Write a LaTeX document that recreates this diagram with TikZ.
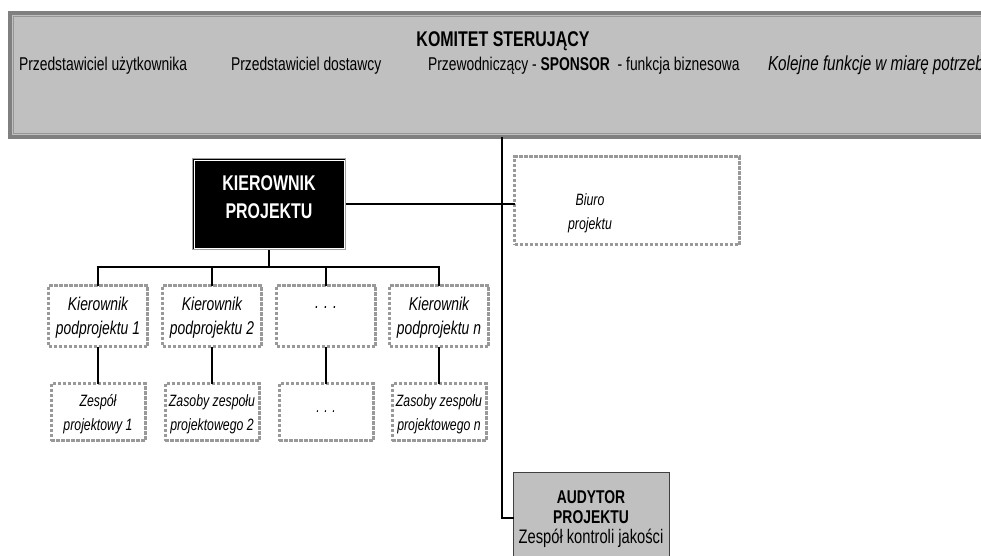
\documentclass[tikz,border=0pt]{standalone}
\usepackage{fontspec}
\setmainfont{Liberation Sans}[FakeStretch=0.75]
\definecolor{boxgray}{HTML}{C0C0C0}
\definecolor{darkframe}{HTML}{808080}
\definecolor{innerframe}{HTML}{969696}
\definecolor{dashgray}{HTML}{999999}
\definecolor{auditframe}{HTML}{404040}
\newcommand{\fsz}[2]{\fontsize{#1}{#2}\selectfont}
\newcommand{\toppad}[1]{\rule{0pt}{#1}}
\begin{document}
\begin{tikzpicture}[x=1pt,y=-1pt,
  every node/.style={inner sep=0pt,outer sep=0pt},
  conn/.style={draw=black,line width=2.6pt},
  dbox/.style={draw=dashgray,line width=3pt,dash pattern=on 3.5pt off 1.5pt,align=center},
  toprow/.style={dbox,minimum width=99pt,minimum height=61pt,font=\fsz{18.5}{24}\itshape},
  botrow/.style={dbox,minimum width=94pt,minimum height=57pt,font=\fsz{16.4}{24}\itshape},
  regtext/.style={font=\fsz{18.5}{24}},
  titletext/.style={font=\fsz{21.3}{24}\bfseries},
]
\useasboundingbox (0,0) rectangle (981,555);
\clip (0,0) rectangle (981,555);

% Steering committee
\node[fill=boxgray,draw=darkframe,line width=4pt,minimum width=990pt,minimum height=124pt] (komitet) at (505,75) {};
\draw[innerframe,line width=1pt] ([shift={(3.5,3.5)}]komitet.north west) rectangle ([shift={(-3.5,-3.5)}]komitet.south east);
\node[titletext,anchor=base] (kt) at (503,46) {KOMITET STERUJĄCY};
\node[regtext,anchor=base west] (r1) at (19,70.5) {Przedstawiciel użytkownika};
\node[regtext,anchor=base west] (r2) at (231,70.5) {Przedstawiciel dostawcy};
\node[regtext,anchor=base west] (r3) at (428,70.5) {Przewodniczący - \textbf{SPONSOR}\ \ - funkcja biznesowa};
\node[font=\fsz{20.3}{24}\itshape,anchor=base west] (r4) at (768,70.5) {Kolejne funkcje w miarę potrzeb};

% Project manager
\node[fill=black,draw={rgb,255:red,160;green,160;blue,160},line width=1.4pt,minimum width=153pt,minimum height=91pt] (kp) at (269,204) {};
\draw[white,line width=0.8pt] ([shift={(1.6,1.6)}]kp.north west) rectangle ([shift={(-1.6,-1.6)}]kp.south east);
\node[titletext,text=white,anchor=base] (kp1) at (269,190) {KIEROWNIK};
\node[titletext,text=white,anchor=base] (kp2) at (269,218) {PROJEKTU};

% Project office
\node[dbox,minimum width=225pt,minimum height=88pt] (biuro) at (627,200.5) {};
\node[align=center,font=\fsz{16.4}{24}\itshape] (biurotext) at (590,213) {Biuro\\projektu};

% Auditor
\node[fill=boxgray,draw=auditframe,line width=1.2pt,minimum width=156pt,minimum height=116pt] (audit) at (591.5,530.5) {};
\node[anchor=base,font=\fsz{18.5}{19}\bfseries] (au1) at (591,503) {AUDYTOR};
\node[anchor=base,font=\fsz{18.5}{19}\bfseries] (au2) at (591,523) {PROJEKTU};
\node[anchor=base,font=\fsz{19.6}{19}] (au3) at (591,543) {Zespół kontroli jakości};

% Subprojects
\node[toprow] (sp1) at (98,316) {\toppad{16pt}Kierownik\\podprojektu 1};
\node[toprow] (sp2) at (212,316) {\toppad{16pt}Kierownik\\podprojektu 2};
\node[toprow] (sp3) at (326,316) {\toppad{16pt}. . .\\\strut};
\node[toprow] (sp4) at (439,316) {\toppad{16pt}Kierownik\\podprojektu n};

\node[botrow] (tm1) at (98,412) {\toppad{17pt}Zespół\\projektowy 1};
\node[botrow] (tm2) at (212,412) {\toppad{17pt}Zasoby zespołu\\projektowego 2};
\node[botrow] (tm3) at (326,412) {. . .};
\node[botrow] (tm4) at (439,412) {\toppad{17pt}Zasoby zespołu\\projektowego n};

% Connectors
\coordinate (bar) at (269,267);
\coordinate (bend) at (502,518);
\draw[conn] (komitet.south -| bend) -- (bend) -- (bend -| audit.west);
\draw[conn] (kp.east) -- (kp.east -| biuro.west);
\draw[conn] (kp.south) -- (kp.south |- bar);
\draw[conn] ([xshift=-1.3pt]sp1.north |- bar) -- ([xshift=1.3pt]sp4.north |- bar);
\foreach \i in {1,2,3,4}{
  \draw[conn] (sp\i.north |- bar) -- (sp\i.north);
  \draw[conn] (sp\i.south) -- (tm\i.north);
}
\end{tikzpicture}
\end{document}
